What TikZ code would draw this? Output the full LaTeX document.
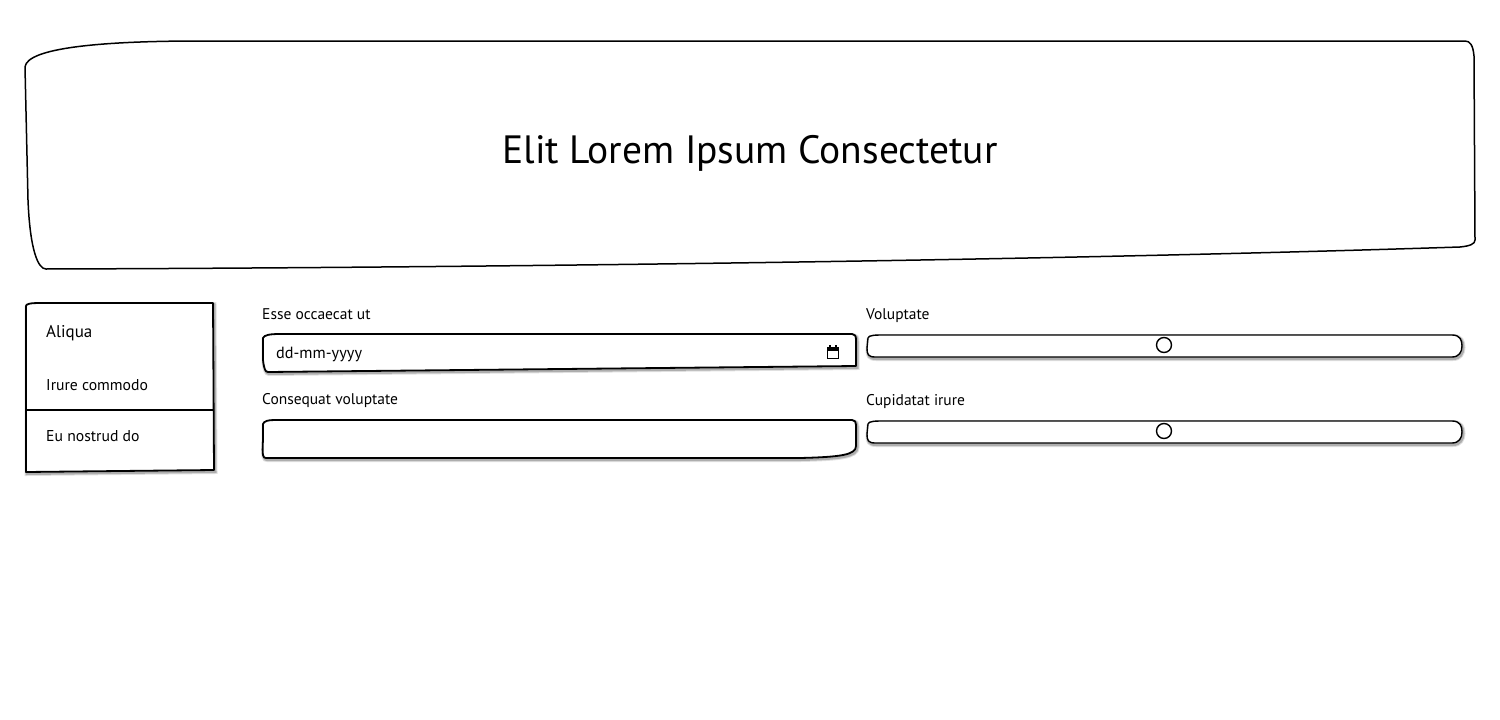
\documentclass[tikz,border=0pt]{standalone}
\usepackage{fontspec}
\setmainfont{PT Sans}
\tikzset{
  sketch/.style={draw=black, line width=1.8pt, fill=white, line join=round},
  shade/.style={preaction={draw=black, opacity=0.12, line width=5pt, transform canvas={xshift=1pt, yshift=-1.5pt}},
    preaction={draw=black, opacity=0.22, line width=3pt, transform canvas={xshift=1pt, yshift=-1.5pt}}},
  lbl/.style={anchor=base west, inner sep=0pt, font=\fontsize{15.5}{17}\selectfont},
  item/.style={anchor=base west, inner sep=0pt, font=\fontsize{15.7}{17}\selectfont},
  knob/.style={draw=black, line width=1.4pt, fill=white}
}
\begin{document}
\begin{tikzpicture}[x=1pt, y=-1pt]
\useasboundingbox[fill=white] (0,0) rectangle (1500,720);
\draw[sketch, line width=1.5pt] (25,67) .. controls (27,48) and (100,41) .. (200,41) -- (1465,41) .. controls (1470,41) and (1473,45) .. (1474,56) -- (1475,240) .. controls (1475,244) and (1470,246) .. (1460,247) .. controls (1000,262) and (400,268) .. (46,269) .. controls (38,269) and (30,250) .. (28,200) -- cycle;
\node[inner sep=0pt, anchor=base, font=\fontsize{39.5}{44}\selectfont] (title) at (750,163) {Elit Lorem Ipsum Consectetur};
\draw[sketch, shade] (26,306) .. controls (26,304) and (30,303) .. (40,303) -- (213,303) -- (214,470) -- (26,472) -- cycle;
\draw[line width=1.8pt] (25,410) -- (214,410);
\node[item, font=\fontsize{17}{19}\selectfont] (aliqua) at (46,337) {Aliqua};
\node[item] (irure) at (46,390) {Irure commodo};
\node[item] (nostrud) at (46,441) {Eu nostrud do};
\node[lbl] (esse) at (262,319) {Esse occaecat ut};
\draw[sketch, shade] (263,338) .. controls (264,335) and (270,334) .. (280,334) -- (852,334) .. controls (855,334) and (856,336) .. (856,340) -- (856,366) -- (268,372) .. controls (265,372) and (264,368) .. (263,360) -- cycle;
\node[item, font=\fontsize{16.2}{18}\selectfont] (date) at (276,358) {dd-mm-yyyy};
\draw[line width=1.3pt] (827.5,347.5) rectangle (838.5,358.5);
\fill (827.5,347) rectangle (838.5,350.5);
\draw[line width=1.2pt] (830,345) -- (830,348) (836,345) -- (836,348);
\node[lbl] (consequat) at (262,404) {Consequat voluptate};
\draw[sketch, shade] (263,424) .. controls (264,421) and (268,420) .. (275,420) -- (852,420) .. controls (855,420) and (856,422) .. (856,425) -- (856,446) .. controls (856,455) and (840,457) .. (800,458) -- (266,458) .. controls (263,458) and (262,456) .. (263,440) -- cycle;
\node[lbl] (voluptate) at (866,319) {Voluptate};
\draw[sketch, line width=1.4pt, shade] (868,338) .. controls (869,335) and (875,335) .. (885,335) -- (1452,335) .. controls (1460,335) and (1462,340) .. (1462,346) .. controls (1462,352) and (1459,357) .. (1452,357) -- (875,357) .. controls (868,357) and (867,354) .. (867,348) -- cycle;
\node[knob, circle, minimum size=15pt, inner sep=0pt] (knobA) at (1164,345) {};
\node[lbl] (cupidatat) at (866,405) {Cupidatat irure};
\draw[sketch, line width=1.4pt, shade] (868,424) .. controls (869,421) and (875,421) .. (885,421) -- (1452,421) .. controls (1460,421) and (1462,426) .. (1462,432) .. controls (1462,438) and (1459,443) .. (1452,443) -- (875,443) .. controls (868,443) and (867,440) .. (867,434) -- cycle;
\node[knob, circle, minimum size=15pt, inner sep=0pt] (knobB) at (1164,431) {};
\end{tikzpicture}
\end{document}
